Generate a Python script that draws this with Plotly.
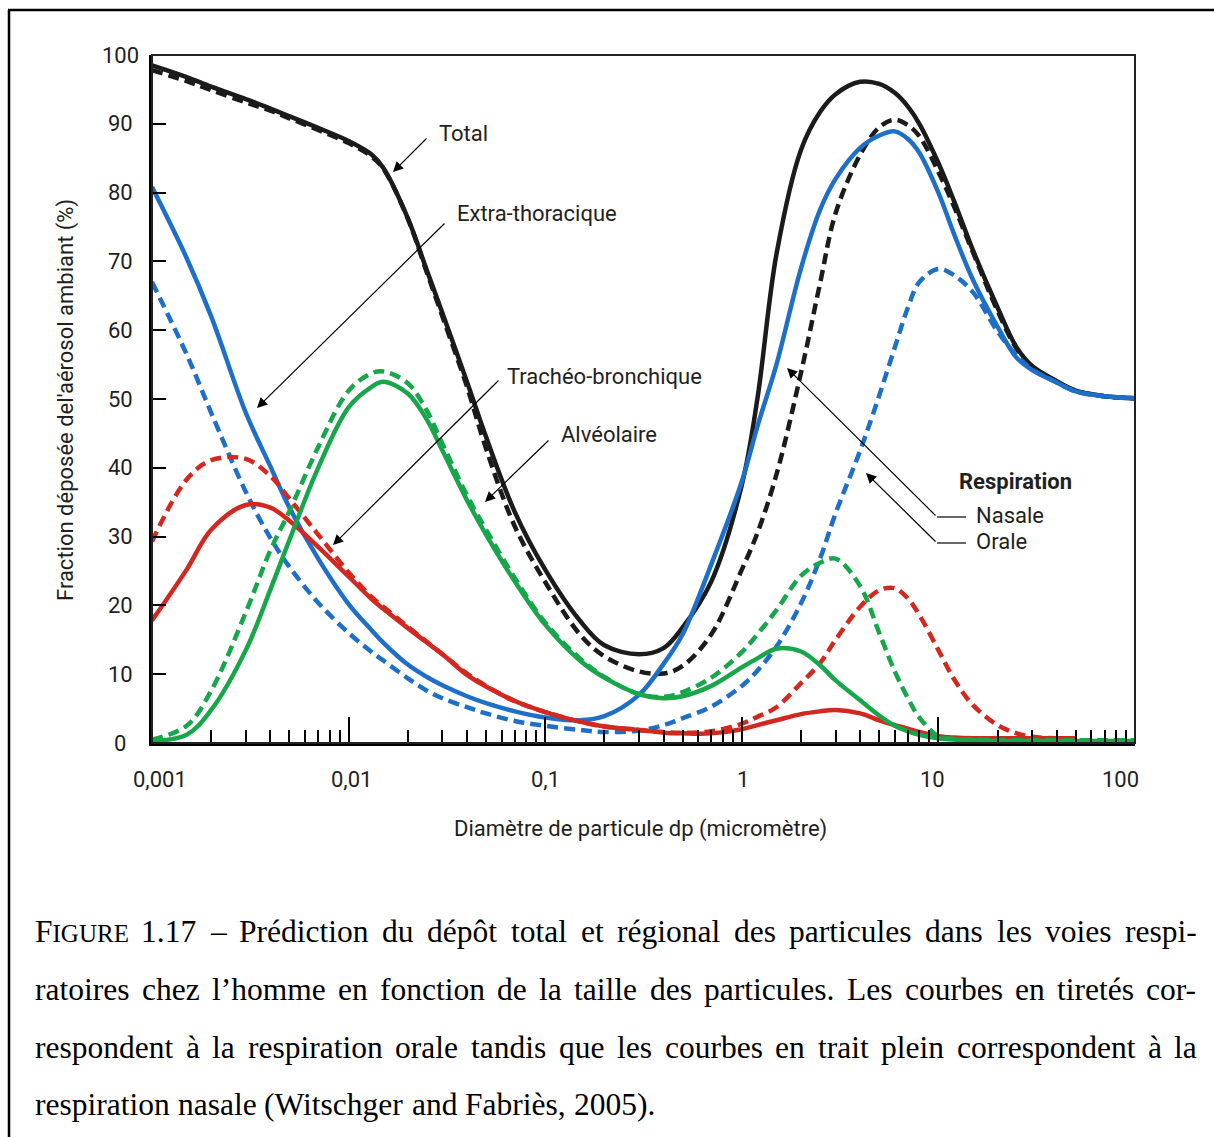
import math
import plotly.graph_objects as go

# ---------------- data ----------------
diam = [0.001, 0.0015, 0.002, 0.003, 0.004, 0.005, 0.007, 0.01, 0.013, 0.015,
        0.02, 0.025, 0.03, 0.04, 0.05, 0.07, 0.1, 0.15, 0.2, 0.3,
        0.4, 0.5, 0.7, 1, 1.2, 1.5, 2, 2.5, 3, 4,
        5, 6, 7, 8, 10, 12, 15, 20, 25, 30,
        40, 50, 70, 100]

total_nasal = [98.5, 96.8, 95.4, 93.6, 92.2, 91.1, 89.4, 87.5, 85.6, 83.6,
               76.3, 68.7, 62.5, 52.5, 44.5, 33.6, 25.2, 17.8, 14.2, 12.9,
               13.8, 16.8, 23.5, 37.5, 50.0, 71.0, 86.2, 91.7, 94.3, 96.1,
               95.8, 94.5, 92.5, 90.0, 84.3, 78.8, 71.6, 63.3, 57.5, 54.8,
               52.6, 51.2, 50.4, 50.1]
total_oral = [97.8, 96.2, 94.9, 93.1, 91.9, 90.8, 89.1, 87.2, 85.3, 83.5,
              76.2, 68.4, 62.0, 51.8, 42.8, 31.5, 23.4, 15.8, 12.6, 10.4,
              10.1, 11.2, 15.8, 25.2, 30.5, 39.0, 53.8, 66.8, 77.0, 85.5,
              89.5, 90.6, 89.8, 88.2, 83.0, 78.0, 71.3, 62.8, 57.3, 54.6,
              52.5, 51.2, 50.4, 50.1]
extra_nasal = [80.8, 70.5, 62.0, 48.0, 40.2, 34.2, 26.8, 20.2, 16.5, 14.6,
               11.4, 9.6, 8.4, 6.8, 5.8, 4.6, 3.7, 3.3, 3.9, 7.0,
               11.5, 15.8, 26.0, 38.0, 46.0, 55.0, 69.0, 77.5, 82.0, 86.5,
               88.3, 88.9, 87.8, 85.8, 80.0, 74.0, 67.3, 60.5, 56.0, 54.2,
               52.4, 51.1, 50.4, 50.1]
extra_oral = [67.0, 56.5, 48.0, 36.5, 29.8, 25.6, 20.4, 16.0, 13.3, 12.0,
              9.4, 7.6, 6.5, 5.2, 4.3, 3.2, 2.5, 1.9, 1.6, 1.8,
              2.6, 3.6, 5.3, 8.3, 10.5, 14.0, 20.3, 26.8, 33.4, 42.5,
              50.5, 57.5, 63.3, 67.0, 68.9, 68.0, 65.5, 59.8, 56.3, 54.3,
              52.4, 51.1, 50.4, 50.1]
tracheo_nasal = [17.8, 25.2, 31.0, 34.6, 34.2, 32.3, 28.5, 24.2, 21.0, 19.5,
                 16.7, 14.6, 12.9, 9.9, 8.2, 6.1, 4.5, 3.1, 2.4, 1.9,
                 1.5, 1.4, 1.4, 2.0, 2.6, 3.3, 4.2, 4.6, 4.8, 4.3,
                 3.3, 2.6, 2.1, 1.6, 1.0, 0.8, 0.7, 0.7, 0.7, 0.7,
                 0.7, 0.7, None, None]
tracheo_oral = [29.3, 38.3, 41.1, 41.3, 38.8, 35.5, 30.3, 24.8, 21.3, 19.8,
                16.9, 14.7, 12.9, 10.1, 8.3, 6.1, 4.5, 3.1, 2.4, 1.9,
                1.6, 1.5, 1.7, 2.8, 3.8, 5.2, 8.7, 11.6, 15.0, 19.8,
                22.2, 22.5, 21.0, 18.6, 13.5, 9.3, 5.5, 2.6, 1.4, 0.9,
                0.7, 0.7, None, None]
alveo_nasal = [0.3, 1.2, 4.8, 13.5, 22.3, 29.5, 40.0, 48.8, 51.7, 52.5,
               50.8, 47.0, 42.5, 35.3, 30.3, 23.5, 17.2, 12.0, 9.5, 7.1,
               6.5, 6.8, 8.3, 11.0, 12.3, 13.7, 13.3, 11.3, 9.1, 6.2,
               4.0, 2.5, 1.7, 1.2, 0.7, 0.5, 0.4, 0.3, 0.3, 0.3,
               0.3, 0.3, 0.3, 0.3]
alveo_oral = [0.5, 2.5, 7.6, 19.0, 28.0, 33.7, 43.0, 51.2, 53.7, 54.0,
              52.3, 48.3, 43.5, 36.0, 31.0, 24.0, 17.5, 12.3, 9.6, 7.1,
              6.7, 7.4, 9.5, 13.2, 15.8, 19.3, 24.3, 26.2, 26.8, 22.8,
              16.0, 10.4, 6.5, 3.7, 1.0, 0.6, 0.5, 0.4, 0.4, 0.4,
              0.4, 0.4, 0.4, 0.4]

x_tick_vals = [0.001, 0.01, 0.1, 1, 10, 100]
x_tick_labels = ["0,001", "0,01", "0,1", "1", "10", "100"]
x_label_shift = [8, 3, 0, 1, -6, -15]
y_tick_vals = [0, 10, 20, 30, 40, 50, 60, 70, 80, 90, 100]
y_tick_labels = [str(v) for v in y_tick_vals]

caption_lines = [
    "FIGURE 1.17 – Prédiction du dépôt total et régional des particules dans les voies respi-",
    "ratoires chez l’homme en fonction de la taille des particules. Les courbes en tiretés cor-",
    "respondent à la respiration orale tandis que les courbes en trait plein correspondent à la",
    "respiration nasale (Witschger and Fabriès, 2005).",
]

# ---------------- styling ----------------
BLACK = "#1b1b1b"
BLUE = "#1e6fc8"
RED = "#d3281f"
GREEN = "#17a64a"
TXT = "#231f20"
FONT = "Roboto"
FS = 22
LW = 4.5
DASH = "11px,6px"

# plot area in window pixels
L, R, T, B = 152, 1135, 55, 743
W, H = 1214, 1137


def PX(x):
    return (x - L) / (R - L)


def PY(y):
    return (B - y) / (B - T)


fig = go.Figure()

series = [
    (total_oral, BLACK, DASH),
    (total_nasal, BLACK, "solid"),
    (extra_oral, BLUE, DASH),
    (extra_nasal, BLUE, "solid"),
    (tracheo_oral, RED, DASH),
    (tracheo_nasal, RED, "solid"),
    (alveo_oral, GREEN, DASH),
    (alveo_nasal, GREEN, "solid"),
]
for vals, col, dash in series:
    fig.add_trace(go.Scatter(
        x=diam, y=vals, mode="lines", showlegend=False, hoverinfo="skip",
        connectgaps=False,
        line=dict(color=col, width=LW, dash=dash, shape="spline", smoothing=1.0),
    ))

minor_vals = [k * 10.0 ** e for e in range(-3, 2) for k in range(2, 10)]

fig.update_xaxes(
    type="log", range=[-3, 2], showgrid=False, zeroline=False,
    showline=True, linecolor="black", linewidth=3,
    ticks="inside", ticklen=26, tickwidth=1.5, tickcolor="black",
    tickmode="array", tickvals=x_tick_vals, showticklabels=False,
    minor=dict(ticks="inside", ticklen=13, tickwidth=1.5, tickcolor="black",
               tickmode="array", tickvals=minor_vals, showgrid=False),
)
fig.update_yaxes(
    range=[0, 100], showgrid=False, zeroline=False,
    showline=True, linecolor="black", linewidth=3,
    ticks="inside", ticklen=14, tickwidth=1.5, tickcolor="black",
    tickmode="array", tickvals=y_tick_vals, showticklabels=False,
)

ann = []
# tick labels
for v, lab, sh in zip(x_tick_vals, x_tick_labels, x_label_shift):
    ann.append(dict(x=math.log10(v), y=PY(779), xref="x", yref="paper", text=lab,
                    showarrow=False, xanchor="center", yanchor="middle", xshift=sh,
                    font=dict(family=FONT, size=FS, color=TXT)))
for v, lab in zip(y_tick_vals, y_tick_labels):
    ann.append(dict(x=PX(120), y=v, xref="paper", yref="y", text=lab,
                    showarrow=False, xanchor="center", yanchor="middle",
                    font=dict(family=FONT, size=FS, color=TXT)))
# axis titles
ann.append(dict(x=PX(640), y=PY(829), xref="paper", yref="paper",
                text="Diamètre de particule dp (micromètre)", showarrow=False,
                xanchor="center", yanchor="middle",
                font=dict(family=FONT, size=FS, color=TXT)))
ann.append(dict(x=PX(66), y=PY(400), xref="paper", yref="paper",
                text="Fraction déposée del'aérosol ambiant (%)", showarrow=False,
                textangle=-90, xanchor="center", yanchor="middle",
                font=dict(family=FONT, size=FS, color=TXT)))

# callout labels
labels = [
    ("Total", 437, 133),
    ("Extra-thoracique", 455, 214),
    ("Trachéo-bronchique", 505, 376),
    ("Alvéolaire", 559, 434),
    ("<b>Respiration</b>", 957, 481),
    ("Nasale", 974, 515),
    ("Orale", 974, 541),
]
for txt, x, y in labels:
    ann.append(dict(x=PX(x), y=PY(y), xref="paper", yref="paper", text=txt,
                    showarrow=False, xanchor="left", yanchor="middle",
                    font=dict(family=FONT, size=FS, color=TXT)))


def arrow(tail, tip):
    return dict(x=PX(tip[0]), y=PY(tip[1]), xref="paper", yref="paper", text="",
                showarrow=True, ax=tail[0] - tip[0], ay=tail[1] - tip[1],
                axref="pixel", ayref="pixel", arrowhead=2,
                arrowsize=1.7, arrowwidth=1.2, arrowcolor="black", standoff=0)


ann.append(arrow((428, 137), (393, 172)))
ann.append(arrow((446, 222), (257, 408)))
ann.append(arrow((500, 379), (333, 545)))
ann.append(arrow((550, 439), (485, 502)))
ann.append(arrow((937, 517), (787, 368)))
ann.append(arrow((937, 543), (866, 473)))

# caption (justified, Times metrics)
TW = {" ": 250, "a": 444, "b": 500, "c": 444, "d": 500, "e": 444, "f": 333, "g": 500,
      "h": 500, "i": 278, "j": 278, "k": 500, "l": 278, "m": 778, "n": 500, "o": 500,
      "p": 500, "q": 500, "r": 333, "s": 389, "t": 278, "u": 500, "v": 500, "w": 722,
      "x": 500, "y": 500, "z": 444, "é": 444, "è": 444, "ê": 444, "à": 444, "ô": 500,
      "’": 333, ".": 250, ",": 250, "-": 333, "–": 500, "(": 333, ")": 333,
      "F": 556, "I": 333, "G": 722, "U": 722, "R": 667, "E": 611, "P": 556, "L": 611,
      "W": 944}
for dgt in "0123456789":
    TW[dgt] = 500
CS = 31.5
SC = 0.78


def word_w(w):
    if w == "FIGURE":
        return (TW["F"] + SC * sum(TW[c] for c in "IGURE")) * CS / 1000
    return sum(TW.get(c, 500) for c in w) * CS / 1000


cap_y = [931, 989, 1047, 1104]
cap_left, cap_right = 33, 1195
for i, line in enumerate(caption_lines):
    words = line.split(" ")
    justify = i < len(caption_lines) - 1
    widths = [word_w(w) for w in words]
    if justify:
        gap = (cap_right - cap_left - sum(widths)) / (len(words) - 1)
    else:
        gap = TW[" "] * CS / 1000
    xpos = cap_left
    for w, ww in zip(words, widths):
        t = w
        if w == "FIGURE":
            t = "F<span style='font-size:%dpx'>IGURE</span>" % round(CS * SC)
        ann.append(dict(x=PX(xpos), y=PY(cap_y[i]), xref="paper", yref="paper",
                        text=t, showarrow=False, xanchor="left", yanchor="middle",
                        font=dict(family="Liberation Serif", size=CS, color="black")))
        xpos += ww + gap

shapes = [
    dict(type="rect", xref="paper", yref="paper", x0=0, x1=1, y0=0, y1=1,
         line=dict(color="#222222", width=2), layer="above"),
    dict(type="line", xref="paper", yref="paper", x0=PX(937), x1=PX(966),
         y0=PY(517), y1=PY(517), line=dict(color="black", width=1.2)),
    dict(type="line", xref="paper", yref="paper", x0=PX(937), x1=PX(966),
         y0=PY(543), y1=PY(543), line=dict(color="black", width=1.2)),
    dict(type="line", xref="paper", yref="paper", x0=PX(9), x1=PX(9),
         y0=PY(10), y1=PY(1140), line=dict(color="black", width=2.5)),
    dict(type="line", xref="paper", yref="paper", x0=PX(8), x1=PX(1220),
         y0=PY(10), y1=PY(10), line=dict(color="black", width=2.5)),
]

fig.update_layout(
    width=W, height=H, autosize=False,
    margin=dict(l=L, r=W - R, t=T, b=H - B, pad=0),
    paper_bgcolor="white", plot_bgcolor="white",
    annotations=ann, shapes=shapes,
    font=dict(family=FONT, color=TXT),
)

fig.write_html("out.html")
